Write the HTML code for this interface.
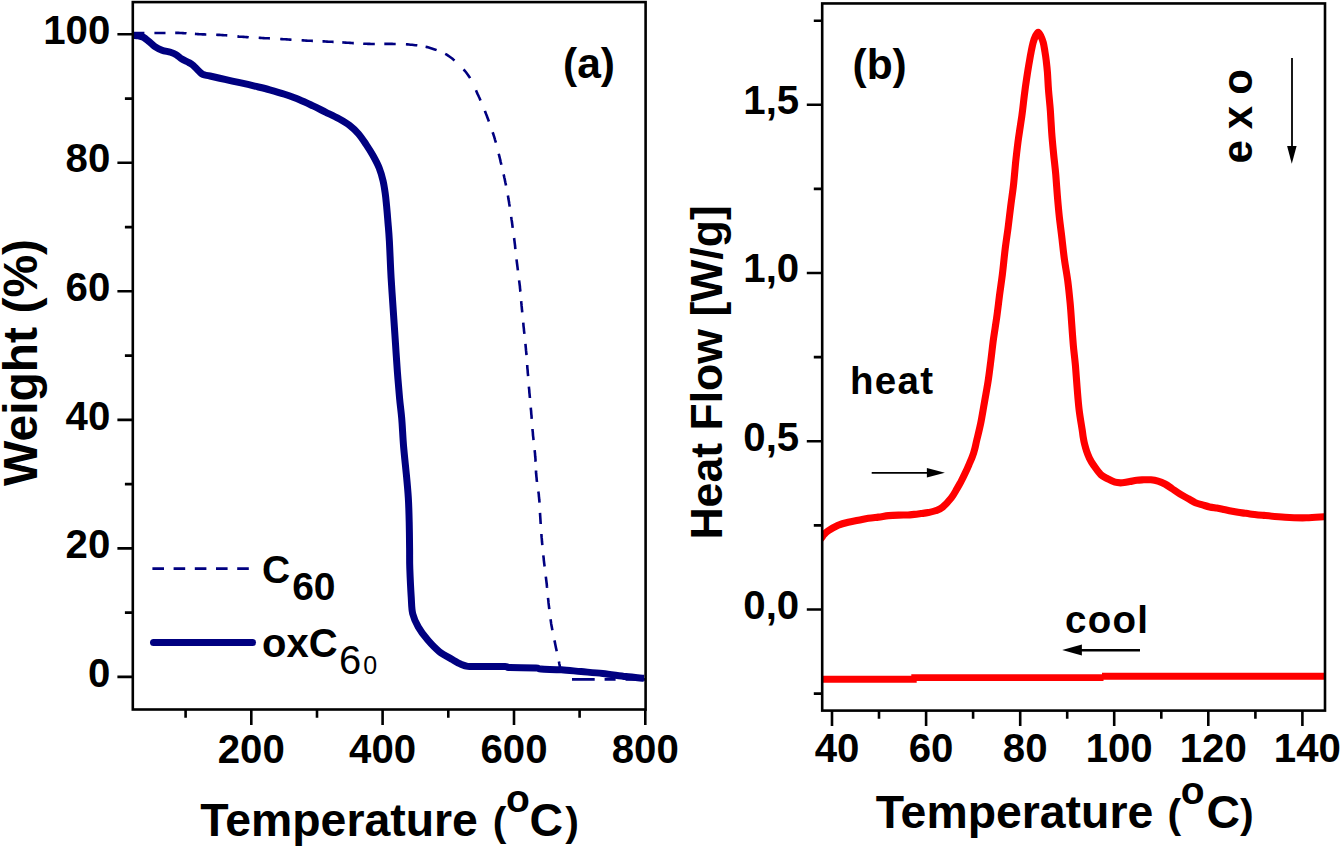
<!DOCTYPE html>
<html><head><meta charset="utf-8"><style>
html,body{margin:0;padding:0;background:#fff;}
svg{display:block;font-family:"Liberation Sans",sans-serif;}
</style></head><body>
<svg width="1341" height="847" viewBox="0 0 1341 847">
<defs><clipPath id="clipA"><rect x="132" y="0" width="514" height="709"/></clipPath><clipPath id="clipB"><rect x="822.6" y="0" width="501.4" height="709"/></clipPath></defs>
<rect width="1341" height="847" fill="#fff"/>
<text x="110.3" y="686.5" font-size="40.2" text-anchor="end" font-weight="bold" >0</text>
<text x="110.3" y="558.0" font-size="40.2" text-anchor="end" font-weight="bold" >20</text>
<text x="110.3" y="429.5" font-size="40.2" text-anchor="end" font-weight="bold" >40</text>
<text x="110.3" y="300.9" font-size="40.2" text-anchor="end" font-weight="bold" >60</text>
<text x="110.3" y="172.4" font-size="40.2" text-anchor="end" font-weight="bold" >80</text>
<text x="110.3" y="43.9" font-size="40.2" text-anchor="end" font-weight="bold" >100</text>
<text x="251.3" y="762.6" font-size="40.2" text-anchor="middle" font-weight="bold" >200</text>
<text x="382.6" y="762.6" font-size="40.2" text-anchor="middle" font-weight="bold" >400</text>
<text x="514.0" y="762.6" font-size="40.2" text-anchor="middle" font-weight="bold" >600</text>
<text x="645.3" y="762.6" font-size="40.2" text-anchor="middle" font-weight="bold" >800</text>
<text x="799.2" y="114.0" font-size="40.2" text-anchor="end" font-weight="bold" >1,5</text>
<text x="799.2" y="282.2" font-size="40.2" text-anchor="end" font-weight="bold" >1,0</text>
<text x="799.2" y="450.5" font-size="40.2" text-anchor="end" font-weight="bold" >0,5</text>
<text x="799.2" y="618.7" font-size="40.2" text-anchor="end" font-weight="bold" >0,0</text>
<text x="837.0" y="762.0" font-size="40.2" text-anchor="middle" font-weight="bold" >40</text>
<text x="931.1" y="762.0" font-size="40.2" text-anchor="middle" font-weight="bold" >60</text>
<text x="1025.2" y="762.0" font-size="40.2" text-anchor="middle" font-weight="bold" >80</text>
<text x="1119.2" y="762.0" font-size="40.2" text-anchor="middle" font-weight="bold" >100</text>
<text x="1213.3" y="762.0" font-size="40.2" text-anchor="middle" font-weight="bold" >120</text>
<text x="1307.4" y="762.0" font-size="40.2" text-anchor="middle" font-weight="bold" >140</text>
<text x="200.3" y="836.3" font-size="46.4" font-weight="bold">Temperature</text>
<text x="492.7" y="836.3" font-size="41" font-weight="bold">(</text>
<text x="506.1" y="812.0999999999999" font-size="39" font-weight="bold">o</text>
<text x="529.5" y="836.3" font-size="46.4" font-weight="bold">C</text>
<text x="565.2" y="836.3" font-size="41" font-weight="bold">)</text>
<text x="875.7" y="827.9" font-size="46.4" font-weight="bold">Temperature</text>
<text x="1167.6" y="827.9" font-size="41" font-weight="bold">(</text>
<text x="1180.8" y="803.6999999999999" font-size="39" font-weight="bold">o</text>
<text x="1206.3999999999999" y="827.9" font-size="46.4" font-weight="bold">C</text>
<text x="1239.9" y="827.9" font-size="41" font-weight="bold">)</text>
<text transform="translate(37,486) rotate(-90)" font-size="48" font-weight="bold">Weight (%)</text>
<text transform="translate(722,539.6) rotate(-90)" font-size="44.6" font-weight="bold">Heat Flow [W/g]</text>
<text x="563" y="77.8" font-size="42.5" text-anchor="start" font-weight="bold" >(a)</text>
<text x="852.5" y="79.2" font-size="42.5" text-anchor="start" font-weight="bold" >(b)</text>
<path d="M133.0,33.0 L133.4,33.0 L133.9,33.0 L134.4,33.0 L135.0,33.0 L135.7,33.0 L136.4,33.0 L137.2,33.0 L138.0,33.0 L138.9,33.0 L139.8,33.0 L140.7,33.0 L141.7,33.0 L142.7,33.0 L143.7,33.0 L144.4,33.0 M154.4,33.0 L155.8,33.0 L157.2,33.0 L158.6,33.0 L160.0,33.0 L161.4,33.0 L162.9,33.0 L164.5,33.0 L165.5,33.0 M175.2,32.9 L176.8,32.9 L178.4,32.9 L180.0,33.0 L181.5,33.0 L183.0,33.1 L184.5,33.2 L186.0,33.2 L186.5,33.3 M194.9,33.9 L196.4,34.0 L197.9,34.1 L199.5,34.2 L201.0,34.3 L202.6,34.4 L204.2,34.4 L205.8,34.5 L206.3,34.5 M216.2,34.8 L217.8,34.9 L219.4,34.9 L221.0,35.0 L222.6,35.1 L224.2,35.2 L225.7,35.3 L227.3,35.4 M237.4,36.4 L238.9,36.6 L240.4,36.7 L242.0,36.8 L243.5,36.9 L245.1,37.0 L246.6,37.1 L248.2,37.2 L248.7,37.3 M258.7,37.8 L260.3,37.9 L261.9,38.0 L263.5,38.1 L265.1,38.2 L266.7,38.2 L268.3,38.3 L269.9,38.4 M280.2,39.0 L281.8,39.1 L283.5,39.2 L285.1,39.3 L286.7,39.4 L288.3,39.5 L289.9,39.6 L291.5,39.7 M301.6,40.3 L303.2,40.4 L304.7,40.5 L306.3,40.6 L307.8,40.7 L309.4,40.7 L310.9,40.8 L312.4,40.9 L312.9,40.9 M322.5,41.4 L324.0,41.4 L325.5,41.5 L327.0,41.6 L328.5,41.7 L330.1,41.8 L331.6,41.8 L333.1,41.9 L333.6,41.9 M342.3,42.4 L343.9,42.5 L345.4,42.6 L347.0,42.7 L348.5,42.8 L350.1,42.9 L351.7,43.0 L353.2,43.1 L353.8,43.1 M363.2,43.7 L364.8,43.8 L366.4,43.8 L368.0,43.9 L369.6,43.9 L371.1,44.0 L372.7,44.0 L374.3,44.0 L374.8,44.0 M384.3,43.9 L385.9,43.9 L387.4,43.9 L389.0,43.9 L390.5,43.9 L392.1,43.9 L393.6,44.0 L395.2,44.0 L395.7,44.0 M405.9,44.3 L407.4,44.4 L409.0,44.5 L410.5,44.7 L412.1,44.8 L413.6,45.0 L415.2,45.2 L416.8,45.3 L417.3,45.4 M425.6,46.8 L427.2,47.1 L428.7,47.5 L430.2,47.9 L431.7,48.4 L433.2,48.9 L434.7,49.4 L436.1,49.9 L436.6,50.1 M445.2,53.9 L446.7,54.7 L448.1,55.6 L449.4,56.5 L450.8,57.5 L452.2,58.5 L453.6,59.7 L454.6,60.4 M463.6,69.4 L464.8,70.8 L466.0,72.3 L467.1,73.7 L468.2,75.2 L469.2,76.7 L470.1,78.2 M476.0,90.3 L476.7,91.9 L477.4,93.6 L478.2,95.2 L478.9,96.8 L479.6,98.3 L480.3,99.9 L480.5,100.5 M484.9,110.9 L485.5,112.5 L486.1,114.1 L486.7,115.6 L487.3,117.2 L487.9,118.8 L488.5,120.4 L488.9,121.5 M492.6,132.2 L493.2,133.8 L493.7,135.3 L494.2,136.9 L494.7,138.5 L495.1,140.1 L495.6,141.7 L495.9,142.7 M498.7,153.7 L499.1,155.3 L499.5,156.9 L499.9,158.5 L500.3,160.1 L500.6,161.6 L501.0,163.2 L501.4,164.8 M503.6,174.4 L504.0,176.0 L504.3,177.5 L504.7,179.1 L505.0,180.7 L505.3,182.3 L505.7,183.9 L506.0,185.5 M507.9,195.6 L508.2,197.2 L508.4,198.8 L508.7,200.3 L509.0,201.9 L509.2,203.5 L509.5,205.1 L509.7,206.7 M511.2,216.8 L511.4,218.4 L511.6,219.9 L511.9,221.5 L512.1,223.1 L512.3,224.7 L512.5,226.3 L512.7,227.9 M514.1,238.0 L514.3,239.6 L514.5,241.2 L514.7,242.8 L514.9,244.4 L515.1,246.0 L515.2,247.6 L515.4,249.2 M516.5,259.3 L516.7,260.9 L516.9,262.5 L517.1,264.0 L517.3,265.6 L517.5,267.2 L517.7,268.8 L517.9,270.3 M519.1,280.3 L519.3,281.8 L519.5,283.4 L519.7,285.0 L519.9,286.5 L520.0,288.1 L520.2,289.7 L520.3,291.2 L520.4,291.8 M521.2,301.2 L521.3,302.8 L521.5,304.4 L521.6,305.9 L521.8,307.5 L521.9,309.1 L522.1,310.7 L522.2,312.3 M523.2,322.6 L523.4,324.2 L523.5,325.8 L523.7,327.4 L523.9,329.0 L524.0,330.6 L524.2,332.2 L524.4,333.8 M525.4,343.8 L525.6,345.4 L525.7,347.0 L525.9,348.6 L526.0,350.2 L526.2,351.9 L526.3,353.5 L526.5,355.1 M527.2,365.0 L527.3,366.7 L527.4,368.3 L527.6,369.9 L527.7,371.5 L527.8,373.1 L528.0,374.7 L528.1,376.2 M528.9,386.6 L529.0,388.1 L529.2,389.7 L529.3,391.2 L529.4,392.8 L529.6,394.4 L529.7,396.0 L529.9,397.6 L529.9,398.1 M530.8,407.7 L530.9,409.3 L531.1,410.9 L531.2,412.5 L531.3,414.1 L531.5,415.7 L531.6,417.3 L531.7,418.9 M532.5,429.0 L532.6,430.6 L532.8,432.2 L532.9,433.7 L533.0,435.3 L533.2,436.9 L533.4,438.5 L533.5,440.1 M534.7,450.2 L534.8,451.8 L535.0,453.4 L535.1,455.0 L535.2,456.5 L535.4,458.1 L535.5,459.6 L535.5,461.2 L535.6,461.7 M536.0,470.4 L536.0,471.9 L536.1,473.5 L536.3,475.0 L536.4,476.6 L536.6,478.2 L536.7,479.8 L536.9,481.3 L537.0,481.9 M538.3,491.5 L538.6,493.1 L538.8,494.7 L538.9,496.3 L539.1,497.9 L539.2,499.5 L539.4,501.1 L539.5,502.7 M540.0,512.8 L540.1,514.4 L540.2,516.0 L540.3,517.6 L540.4,519.2 L540.5,520.8 L540.6,522.4 L540.7,524.0 M541.4,534.0 L541.5,535.6 L541.6,537.2 L541.8,538.8 L541.9,540.4 L542.0,542.0 L542.2,543.6 L542.3,545.2 M543.3,555.3 L543.5,556.9 L543.7,558.5 L543.8,560.1 L544.0,561.7 L544.2,563.3 L544.4,564.9 L544.6,566.5 M545.8,576.6 L546.0,578.2 L546.2,579.8 L546.4,581.4 L546.6,583.0 L546.8,584.6 L546.9,586.2 L547.1,587.8 M548.0,597.9 L548.2,599.5 L548.4,601.1 L548.5,602.7 L548.7,604.3 L548.9,605.9 L549.1,607.5 L549.3,609.1 M550.5,619.2 L550.8,620.8 L551.0,622.3 L551.2,623.9 L551.5,625.5 L551.8,627.1 L552.1,628.7 L552.4,630.3 M554.4,640.4 L554.8,641.9 L555.1,643.4 L555.4,644.9 L555.7,646.4 L556.0,647.9 L556.3,649.3 L556.6,650.8 L556.7,651.3 M558.9,661.5 L559.1,662.6 L559.3,663.7 L559.5,664.6 L559.7,665.5 L559.8,666.3 L559.9,667.1 L560.0,667.8 L560.0,668.5 L560.1,669.1 L560.1,669.7 L560.2,670.2 L560.2,670.6 L560.2,671.1 L560.2,671.4 L560.3,671.8 L560.3,672.0" stroke="#000080" stroke-width="2.6" fill="none"/>
<path d="M572,679.4H594.7 M604.6,679.4H615.6 M625.5,679.4H645" stroke="#000080" stroke-width="2.6" fill="none"/>
<path d="M133.5,35.4 C134.3,35.5 136.9,35.6 138.6,35.9 C140.3,36.2 141.8,36.4 143.6,37.4 C145.4,38.4 147.4,40.3 149.3,41.8 C151.2,43.3 152.8,45.2 154.9,46.6 C157.0,48.0 159.4,49.2 162.0,50.2 C164.6,51.2 168.1,51.5 170.5,52.3 C172.9,53.1 174.3,53.7 176.2,54.8 C178.1,55.9 179.8,57.7 181.9,59.0 C184.0,60.3 187.1,61.5 189.0,62.6 C190.9,63.7 191.5,64.0 193.2,65.4 C194.8,66.8 197.2,69.6 198.9,71.1 C200.6,72.6 201.2,73.8 203.1,74.6 C204.9,75.4 206.4,75.2 210.0,76.0 C213.6,76.8 219.9,78.3 224.9,79.4 C229.9,80.5 234.8,81.6 239.8,82.7 C244.8,83.8 249.7,84.9 254.7,86.1 C259.7,87.3 264.7,88.4 269.7,89.8 C274.7,91.2 279.6,92.6 284.6,94.3 C289.6,96.0 294.8,97.8 299.5,99.7 C304.2,101.6 308.6,103.8 313.0,105.9 C317.4,108.0 321.7,110.2 326.0,112.3 C330.3,114.4 335.1,116.6 339.0,118.8 C342.9,121.0 346.2,122.8 349.4,125.3 C352.6,127.8 355.6,130.5 358.4,133.7 C361.2,136.9 363.8,141.0 366.2,144.6 C368.6,148.2 370.5,151.1 372.7,155.0 C374.9,158.9 377.5,163.7 379.2,168.0 C380.9,172.3 382.1,176.7 383.1,181.0 C384.1,185.3 384.7,189.8 385.3,194.0 C385.9,198.2 386.1,201.2 386.6,206.2 C387.1,211.2 387.6,218.0 388.1,223.9 C388.6,229.8 388.9,232.6 389.4,241.6 C389.9,250.6 390.4,265.4 391.1,277.7 C391.8,290.0 392.9,304.5 393.6,315.5 C394.3,326.5 394.9,334.4 395.5,343.8 C396.1,353.2 396.7,362.9 397.4,372.0 C398.1,381.1 398.9,390.8 399.6,398.5 C400.3,406.2 401.0,410.3 401.7,418.3 C402.4,426.3 402.8,437.2 403.6,446.6 C404.4,456.0 405.6,466.4 406.4,474.9 C407.2,483.4 407.8,489.6 408.3,497.5 C408.8,505.4 409.0,513.5 409.2,522.0 C409.4,530.5 409.5,540.8 409.6,548.5 C409.7,556.2 409.5,560.3 409.8,568.3 C410.1,576.3 410.7,589.1 411.2,596.7 C411.7,604.3 411.5,608.7 412.7,613.7 C413.9,618.7 415.8,622.5 418.3,626.9 C420.8,631.3 424.3,636.0 427.8,640.1 C431.3,644.2 435.0,648.2 439.1,651.4 C443.2,654.6 448.7,657.4 452.3,659.5 C455.9,661.6 458.4,663.1 461.0,664.3 C463.6,665.4 464.5,666.0 467.7,666.4 C470.9,666.8 473.8,666.5 480.0,666.5 C486.2,666.5 500.0,666.4 505.0,666.6 C510.0,666.8 504.8,667.4 510.0,667.6 C515.2,667.8 530.8,667.6 536.0,667.9 C541.2,668.1 536.8,668.8 541.0,669.1 C545.2,669.4 554.6,669.4 561.3,669.8 C568.0,670.2 574.3,671.0 581.2,671.6 C588.1,672.2 595.2,672.7 602.7,673.5 C610.2,674.3 619.0,675.8 625.9,676.6 C632.8,677.4 641.0,678.0 644.0,678.3" stroke="#000080" stroke-width="7" fill="none" stroke-linejoin="round"/>
<path d="M152.4,568.6H249" stroke="#000080" stroke-width="2.6" stroke-dasharray="11.6 9.6"/>
<path d="M153.5,642.4H252.5" stroke="#000080" stroke-width="7" stroke-linecap="round"/>
<text x="262" y="583" font-size="39" font-weight="bold">C<tspan dx="2" dy="17.3">60</tspan></text>
<text x="262" y="657" font-size="40" font-weight="bold">oxC<tspan dx="1.5" dy="16.5" font-weight="normal">6</tspan><tspan dx="2" font-size="25" font-weight="normal">0</tspan></text>
<g clip-path="url(#clipB)"><path d="M820.5,539.0 C820.8,538.7 821.7,537.6 822.2,537.0 C822.7,536.4 822.4,536.3 823.4,535.3 C824.4,534.3 825.6,532.6 828.1,530.9 C830.6,529.2 834.8,526.7 838.1,525.2 C841.5,523.8 844.8,523.0 848.2,522.2 C851.6,521.4 854.9,520.9 858.3,520.2 C861.6,519.6 864.9,518.8 868.3,518.3 C871.6,517.8 875.0,517.5 878.4,517.1 C881.8,516.7 885.1,515.9 888.5,515.6 C891.9,515.3 895.2,515.2 898.5,515.1 C901.8,515.0 905.4,515.1 908.0,515.0 C910.6,514.9 912.0,514.6 914.2,514.4 C916.4,514.2 918.6,513.9 921.0,513.6 C923.4,513.3 925.9,513.1 928.3,512.6 C930.7,512.1 933.0,511.7 935.4,510.8 C937.8,509.9 939.9,509.5 942.5,507.3 C945.1,505.1 949.0,500.8 951.3,497.9 C953.6,494.9 954.9,492.4 956.5,489.6 C958.1,486.9 959.6,484.1 961.1,481.4 C962.6,478.6 963.9,475.9 965.2,473.1 C966.5,470.3 967.7,467.6 968.9,464.8 C970.1,462.0 971.4,459.2 972.4,456.5 C973.4,453.8 974.2,451.1 974.9,448.3 C975.6,445.6 975.8,444.1 976.8,440.0 C977.8,435.9 979.3,430.0 980.6,423.8 C981.9,417.6 983.1,409.7 984.4,402.6 C985.6,395.5 987.0,388.4 988.1,381.3 C989.2,374.2 990.0,367.2 990.9,360.1 C991.8,353.0 992.5,345.9 993.5,338.8 C994.5,331.7 995.7,324.7 996.7,317.6 C997.7,310.5 998.5,303.4 999.4,296.3 C1000.3,289.2 1001.3,282.9 1002.3,275.0 C1003.3,267.1 1004.2,256.7 1005.2,248.8 C1006.2,240.9 1007.2,234.7 1008.1,227.6 C1009.0,220.5 1009.8,213.4 1010.7,206.3 C1011.6,199.2 1012.6,192.9 1013.5,185.0 C1014.4,177.1 1015.1,166.7 1016.0,158.8 C1016.9,150.9 1017.6,144.7 1018.6,137.6 C1019.6,130.5 1020.8,123.3 1021.8,116.3 C1022.8,109.3 1023.5,101.9 1024.3,95.5 C1025.1,89.1 1025.8,83.9 1026.7,78.1 C1027.6,72.2 1028.8,64.8 1029.6,60.4 C1030.3,56.0 1030.6,54.5 1031.2,51.5 C1031.8,48.5 1032.4,45.2 1033.1,42.7 C1033.8,40.2 1034.4,38.2 1035.3,36.5 C1036.2,34.8 1037.2,32.3 1038.2,32.3 C1039.2,32.3 1040.2,34.8 1041.0,36.5 C1041.8,38.2 1042.6,40.2 1043.3,42.7 C1044.0,45.2 1044.4,48.5 1044.9,51.5 C1045.4,54.5 1045.8,57.0 1046.2,60.4 C1046.6,63.8 1047.0,67.1 1047.4,72.0 C1047.8,76.9 1048.0,83.5 1048.5,90.0 C1049.0,96.5 1049.9,104.2 1050.4,111.3 C1050.9,118.4 1051.2,125.5 1051.7,132.6 C1052.2,139.7 1052.9,146.7 1053.6,153.8 C1054.3,160.9 1055.2,167.9 1055.8,175.0 C1056.4,182.1 1056.8,189.2 1057.4,196.3 C1058.0,203.4 1058.6,210.5 1059.4,217.6 C1060.2,224.7 1061.2,231.7 1062.0,238.8 C1062.8,245.9 1063.5,252.9 1064.5,260.0 C1065.5,267.1 1066.9,274.2 1067.8,281.3 C1068.7,288.4 1069.4,295.5 1070.1,302.6 C1070.8,309.7 1071.2,316.7 1071.7,323.8 C1072.2,330.9 1072.7,337.9 1073.3,345.0 C1073.9,352.1 1074.9,359.2 1075.5,366.3 C1076.1,373.4 1076.5,380.5 1077.1,387.6 C1077.7,394.7 1078.2,401.7 1079.0,408.8 C1079.8,415.9 1081.5,425.4 1082.2,430.1 C1082.9,434.8 1082.8,434.8 1083.2,437.1 C1083.6,439.5 1084.0,441.9 1084.6,444.2 C1085.2,446.5 1085.8,448.8 1086.6,451.2 C1087.4,453.6 1088.3,455.9 1089.5,458.3 C1090.7,460.7 1091.8,462.7 1093.7,465.4 C1095.6,468.1 1098.4,472.4 1100.8,474.6 C1103.2,476.9 1105.5,477.6 1107.9,478.9 C1110.3,480.2 1112.6,481.5 1115.0,482.2 C1117.4,482.9 1119.8,482.9 1122.2,482.8 C1124.6,482.7 1127.2,482.0 1129.6,481.6 C1132.0,481.2 1134.3,480.5 1136.7,480.2 C1139.1,479.9 1141.4,479.9 1143.8,479.8 C1146.2,479.7 1148.5,479.6 1150.9,479.8 C1153.3,480.0 1155.7,480.4 1158.0,481.1 C1160.3,481.8 1162.7,482.8 1165.0,484.0 C1167.3,485.2 1169.5,486.9 1172.0,488.6 C1174.5,490.3 1177.3,492.3 1180.0,494.0 C1182.7,495.7 1185.7,497.2 1188.3,498.7 C1190.9,500.1 1193.0,501.7 1195.4,502.7 C1197.8,503.7 1200.1,504.2 1202.5,504.9 C1204.9,505.6 1207.2,506.4 1209.6,506.9 C1212.0,507.4 1214.3,507.7 1216.7,508.1 C1219.1,508.5 1221.4,509.0 1223.8,509.5 C1226.2,510.0 1228.5,510.4 1230.9,510.9 C1233.3,511.4 1235.7,511.9 1238.0,512.3 C1240.3,512.7 1243.0,512.9 1245.0,513.2 C1247.0,513.5 1246.9,513.5 1250.0,513.9 C1253.1,514.3 1258.0,514.8 1263.8,515.4 C1269.6,516.0 1277.9,516.9 1285.0,517.3 C1292.1,517.7 1299.8,517.9 1306.3,517.8 C1312.8,517.7 1320.4,517.0 1324.0,516.8 C1327.6,516.6 1327.3,516.5 1328.0,516.5" stroke="#ff0000" stroke-width="7.1" fill="none" stroke-linejoin="round"/></g>
<g clip-path="url(#clipB)"><path d="M820,679.2H916.7 M911.3,677.6H1103.5 M1102,676.2H1330" stroke="#ff0000" stroke-width="6.9" fill="none"/></g>
<text x="850" y="394.4" font-size="38.5" text-anchor="start" font-weight="bold" letter-spacing="1.3">heat</text>
<text x="1065" y="632.8" font-size="38.5" text-anchor="start" font-weight="bold" letter-spacing="1.3">cool</text>
<path d="M871.7,472.8H930" stroke="#000" stroke-width="1.7"/>
<path d="M944.9,472.8 L926.9,468.1 L926.9,477.6 Z" fill="#000"/>
<path d="M1140,650.2H1080" stroke="#000" stroke-width="2.4"/>
<path d="M1062.2,650.1 L1081.9,644.4 L1081.9,655.6 Z" fill="#000"/>
<text transform="translate(1251.6,163.4) rotate(-90)" font-size="42" font-weight="bold">e</text>
<text transform="translate(1251.6,129.2) rotate(-90)" font-size="42" font-weight="bold">x</text>
<text transform="translate(1251.6,94.7) rotate(-90)" font-size="42" font-weight="bold">o</text>
<path d="M1292,58.1V150" stroke="#000" stroke-width="1.8"/>
<path d="M1291.8,163.7 L1287.1,146 L1296.6,146 Z" fill="#000"/>
<rect x="132.8" y="2.1" width="512.8" height="707.4" fill="none" stroke="#000" stroke-width="2.6"/>
<rect x="822.2" y="3.45" width="502.79999999999995" height="707.15" fill="none" stroke="#000" stroke-width="2.6"/>
<path d="M117.4,676.9H132.8 M124.9,612.6H132.8 M117.4,548.4H132.8 M124.9,484.1H132.8 M117.4,419.9H132.8 M124.9,355.6H132.8 M117.4,291.3H132.8 M124.9,227.1H132.8 M117.4,162.8H132.8 M124.9,98.6H132.8 M117.4,34.3H132.8 M185.6,709.5V717.8 M251.3,709.5V724.9 M317.0,709.5V717.8 M382.6,709.5V724.9 M448.3,709.5V717.8 M514.0,709.5V724.9 M579.6,709.5V717.8 M645.3,709.5V724.9 M813.8000000000001,693.6H822.2 M806.8000000000001,609.5H822.2 M813.8000000000001,525.4H822.2 M806.8000000000001,441.3H822.2 M813.8000000000001,357.1H822.2 M806.8000000000001,273.0H822.2 M813.8000000000001,188.9H822.2 M806.8000000000001,104.8H822.2 M813.8000000000001,20.7H822.2 M832.0,710.6V726.0 M879.0,710.6V718.8000000000001 M926.1,710.6V726.0 M973.1,710.6V718.8000000000001 M1020.2,710.6V726.0 M1067.2,710.6V718.8000000000001 M1114.2,710.6V726.0 M1161.3,710.6V718.8000000000001 M1208.3,710.6V726.0 M1255.4,710.6V718.8000000000001 M1302.4,710.6V726.0" stroke="#000" stroke-width="2.6" fill="none"/>
</svg>
</body></html>
